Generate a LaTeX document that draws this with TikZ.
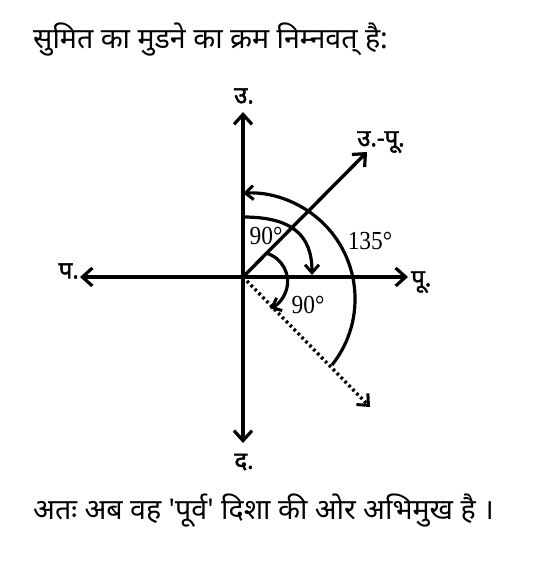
\documentclass[tikz,border=0pt]{standalone}
\usepackage{fontspec}
\setmainfont{Liberation Serif}
\newfontfamily\deva[Script=Devanagari]{Noto Sans}
\newfontfamily\devab[Script=Devanagari,FakeBold=2]{Noto Sans}
\usetikzlibrary{arrows.meta}
\begin{document}
\begin{tikzpicture}[x=1pt,y=-1pt,
  axis/.style={line width=3.4pt,-{Straight Barb[length=10pt,width=18pt,line width=3.2pt]}},
  dotarrow/.style={line width=3.4pt,dash pattern=on 2.6pt off 3pt,-{Straight Barb[length=9pt,width=16pt,line width=3pt]}},
  turn/.style={line width=3.2pt,-{Straight Barb[length=8pt,width=14pt,line width=3pt]}},
  dirlbl/.style={inner sep=0pt,font=\devab\fontsize{24}{26}\selectfont},
  deg/.style={inner sep=0pt,font=\fontsize{26}{28}\selectfont},
  txt/.style={inner sep=0pt,anchor=base west,font=\deva\fontsize{28.6}{32}\selectfont}]
\useasboundingbox (0,0) rectangle (556,562);
% texts
\node[txt] (title) at (33,48) {सुमित का मुडने का क्रम निम्नवत् है:};
\node[txt] (concl) at (33,519) {अतः अब वह 'पूर्व' दिशा की ओर अभिमुख है ।};
% points
\coordinate (O) at (243,277);
\coordinate (N) at (243,112);
\coordinate (S) at (243,443);
\coordinate (E) at (408,277);
\coordinate (W) at (80,277);
\coordinate (NE) at (367,152);
\coordinate (SE) at (370,407);
% axes
\draw[axis] (O) -- (N);
\draw[axis] (O) -- (S);
\draw[axis] (O) -- (E);
\draw[axis] (O) -- (W);
\draw[axis] (O) -- (NE);
\draw[dotarrow] (O) -- (SE);
% turn arcs
\coordinate (m1) at (243,217);
\coordinate (m2) at (312,275);
\draw[turn] (m1) .. controls (292,217) and (312,235) .. (m2);
\coordinate (o1) at (332,365);
\draw[turn] (o1) arc[start angle=38.5,end angle=-93.2,radius=106];
\coordinate (i1) at (266.7,253.3);
\draw[turn] (i1) arc[start angle=-73.2,end angle=66.3,radius=29.4];
% labels
\node[dirlbl] (lN) at (244,96) {उ.};
\node[dirlbl] (lS) at (244,462) {द.};
\node[dirlbl,anchor=west] (lE) at (411,282) {पू.};
\node[dirlbl,anchor=east] (lW) at (79,271) {प.};
\node[dirlbl] (lNE) at (381,142) {उ.-पू.};
\node[deg] (d1) at (266,236) {\scalebox{0.9}[1]{90°}};
\node[deg] (d2) at (370,241) {\scalebox{0.9}[1]{135°}};
\node[deg] (d3) at (308,305) {\scalebox{0.9}[1]{90°}};
\end{tikzpicture}
\end{document}
